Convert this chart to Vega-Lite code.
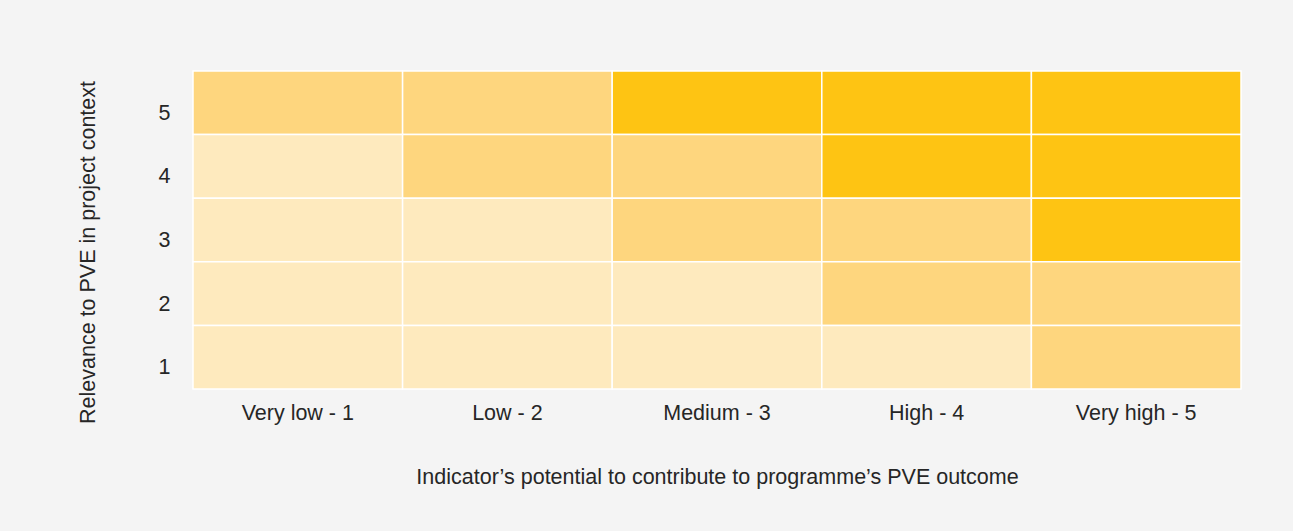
{
  "$schema": "https://vega.github.io/schema/vega-lite/v6.json",
  "width": 1048,
  "height": 318,
  "autosize": {"type": "none"},
  "padding": {"left": 193, "top": 71, "right": 52, "bottom": 142},
  "background": "#f4f4f4",
  "data": {
    "values": [
      {"potential": "Very low - 1", "relevance": "5", "level": "medium"},
      {"potential": "Low - 2", "relevance": "5", "level": "medium"},
      {"potential": "Medium - 3", "relevance": "5", "level": "high"},
      {"potential": "High - 4", "relevance": "5", "level": "high"},
      {"potential": "Very high - 5", "relevance": "5", "level": "high"},
      {"potential": "Very low - 1", "relevance": "4", "level": "low"},
      {"potential": "Low - 2", "relevance": "4", "level": "medium"},
      {"potential": "Medium - 3", "relevance": "4", "level": "medium"},
      {"potential": "High - 4", "relevance": "4", "level": "high"},
      {"potential": "Very high - 5", "relevance": "4", "level": "high"},
      {"potential": "Very low - 1", "relevance": "3", "level": "low"},
      {"potential": "Low - 2", "relevance": "3", "level": "low"},
      {"potential": "Medium - 3", "relevance": "3", "level": "medium"},
      {"potential": "High - 4", "relevance": "3", "level": "medium"},
      {"potential": "Very high - 5", "relevance": "3", "level": "high"},
      {"potential": "Very low - 1", "relevance": "2", "level": "low"},
      {"potential": "Low - 2", "relevance": "2", "level": "low"},
      {"potential": "Medium - 3", "relevance": "2", "level": "low"},
      {"potential": "High - 4", "relevance": "2", "level": "medium"},
      {"potential": "Very high - 5", "relevance": "2", "level": "medium"},
      {"potential": "Very low - 1", "relevance": "1", "level": "low"},
      {"potential": "Low - 2", "relevance": "1", "level": "low"},
      {"potential": "Medium - 3", "relevance": "1", "level": "low"},
      {"potential": "High - 4", "relevance": "1", "level": "low"},
      {"potential": "Very high - 5", "relevance": "1", "level": "medium"}
    ]
  },
  "mark": {"type": "rect", "stroke": "#ffffff", "strokeWidth": 1.5},
  "encoding": {
    "x": {
      "field": "potential",
      "type": "nominal",
      "sort": ["Very low - 1", "Low - 2", "Medium - 3", "High - 4", "Very high - 5"],
      "scale": {"paddingInner": 0, "paddingOuter": 0},
      "axis": {
        "title": "Indicator’s potential to contribute to programme’s PVE outcome",
        "labelAngle": 0,
        "ticks": false,
        "domain": false,
        "labelPadding": 13,
        "titlePadding": 43
      }
    },
    "y": {
      "field": "relevance",
      "type": "ordinal",
      "sort": "descending",
      "scale": {"paddingInner": 0, "paddingOuter": 0},
      "axis": {
        "title": "Relevance to PVE in project context",
        "ticks": false,
        "domain": false,
        "labelPadding": 23,
        "labelOffset": 11,
        "titlePadding": 59,
        "titleY": 181
      }
    },
    "color": {
      "field": "level",
      "type": "nominal",
      "scale": {"domain": ["low", "medium", "high"], "range": ["#feeabe", "#fed67e", "#fec413"]},
      "legend": null
    }
  },
  "config": {
    "view": {"stroke": null},
    "axis": {
      "labelFont": "Liberation Sans",
      "titleFont": "Liberation Sans",
      "labelFontSize": 21.5,
      "titleFontSize": 21.5,
      "titleFontWeight": "normal",
      "labelColor": "#262626",
      "titleColor": "#262626",
      "grid": false
    }
  }
}
